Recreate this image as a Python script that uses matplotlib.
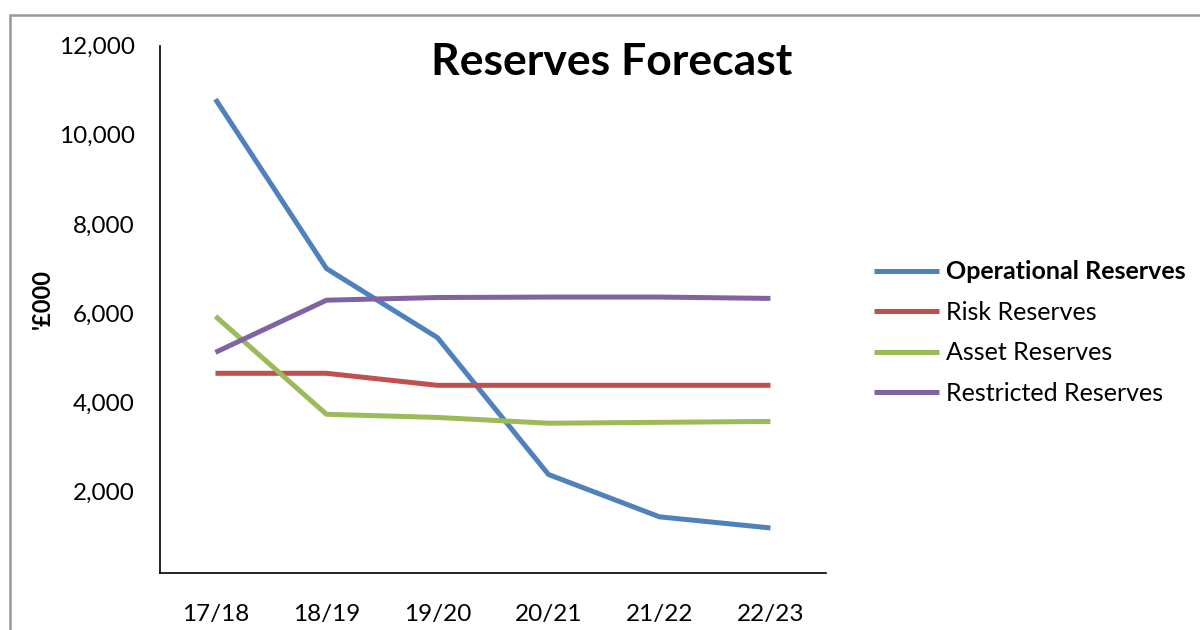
import matplotlib.pyplot as plt
from matplotlib.patches import Rectangle
from matplotlib.ticker import FuncFormatter

plt.rcParams['font.family'] = ['Lato', 'DejaVu Sans']

years = ['17/18', '18/19', '19/20', '20/21', '21/22', '22/23']
operational = [10800, 7000, 5450, 2380, 1430, 1180]
risk = [4650, 4650, 4380, 4380, 4380, 4380]
asset = [5930, 3730, 3660, 3530, 3550, 3570]
restricted = [5120, 6290, 6350, 6360, 6360, 6330]

series = [
    ('Operational Reserves', operational, '#4F81BD'),
    ('Risk Reserves', risk, '#C0504D'),
    ('Asset Reserves', asset, '#9BBB59'),
    ('Restricted Reserves', restricted, '#8064A2'),
]

fig = plt.figure(figsize=(12, 6.3), dpi=100)
ax = fig.add_axes([0.1333, 0.0905, 0.555, 0.837])

x = range(len(years))
for name, vals, col in series:
    ax.plot(x, vals, color=col, lw=3.6, label=name, solid_capstyle='butt')

ax.set_xlim(-0.5, 5.5)
ax.set_ylim(170, 12000)
ax.set_yticks([2000, 4000, 6000, 8000, 10000, 12000])
ax.yaxis.set_major_formatter(FuncFormatter(lambda v, p: f'{int(v):,}'))
ax.set_xticks(list(x))
ax.set_xticklabels(years)
ax.tick_params(length=0, labelsize=17.5)
ax.tick_params(axis='y', pad=18)
ax.tick_params(axis='x', pad=22)
for s in ['top', 'right']:
    ax.spines[s].set_visible(False)
for s in ['left', 'bottom']:
    ax.spines[s].set_linewidth(1.2)

ax.set_ylabel("'£000", fontsize=17, fontweight='bold')
ax.yaxis.set_label_coords(-0.16, 0.52)

fig.text(0.51, 0.902, 'Reserves Forecast', fontsize=32, fontweight='bold',
         ha='center', va='center')

leg = fig.legend(loc='center left', bbox_to_anchor=(0.7095, 0.472), frameon=False,
                 fontsize=18, handlelength=2.6, handletextpad=0.3, labelspacing=0.7)
leg.get_texts()[0].set_fontweight('bold')

# outer chart border (cropped at right and bottom)
fig.patches.append(Rectangle((10 / 1200, -0.1), 1.2, 1 - 15 / 630 + 0.1,
                             transform=fig.transFigure, fill=False,
                             edgecolor='#999999', lw=1.8))

fig.savefig('out.png', dpi=100)
